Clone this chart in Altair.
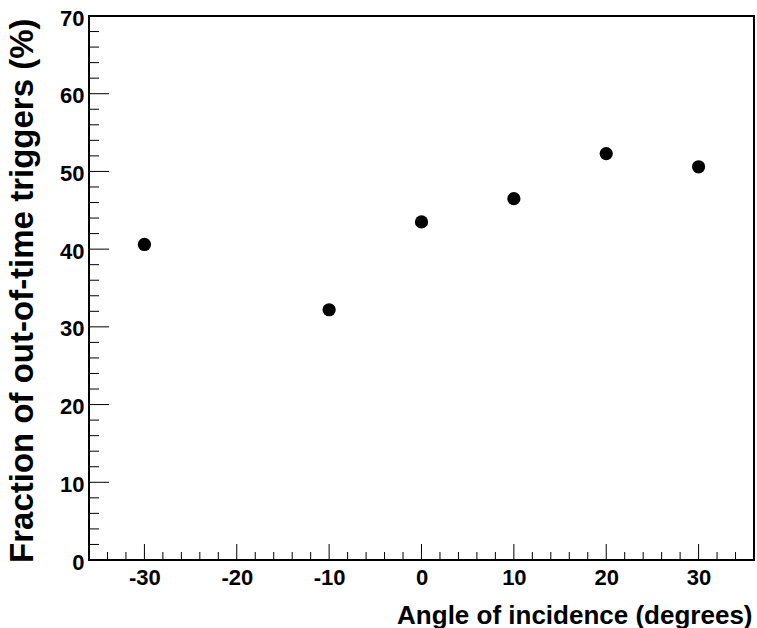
import altair as alt
import pandas as pd

# data
angles = [-30, -10, 0, 10, 20, 30]
fractions = [40.6, 32.2, 43.5, 46.5, 52.3, 50.6]

# tick values
x_major = [-30, -20, -10, 0, 10, 20, 30]
x_minor = [-34, -32, -28, -26, -24, -22, -18, -16, -14, -12, -8, -6, -4, -2,
           2, 4, 6, 8, 12, 14, 16, 18, 22, 24, 26, 28, 32, 34]
y_major = [0, 10, 20, 30, 40, 50, 60, 70]
y_minor = [2, 4, 6, 8, 12, 14, 16, 18, 22, 24, 26, 28, 32, 34, 36, 38,
           42, 44, 46, 48, 52, 54, 56, 58, 62, 64, 66, 68]

W, H = 665, 544
FONT = "Liberation Sans"

xs = alt.Scale(domain=[-36, 36], nice=False, zero=False)
ys = alt.Scale(domain=[0, 70], nice=False, zero=False)

df = pd.DataFrame({"angle": angles, "frac": fractions})

x_axis = alt.Axis(
    values=x_major, ticks=False, domain=False, grid=False,
    labelExpr="datum.value + ''",
    labelFont=FONT, labelFontSize=22, labelFontWeight="bold", labelColor="black",
    labelPadding=7, labelBaseline="top",
    title="Angle of incidence (degrees)", titleFont=FONT, titleFontSize=26,
    titleFontWeight="bold", titleColor="black", titleAlign="right",
    titleAnchor="end", titleBaseline="alphabetic", titleX=663, titleY=63, titleAngle=0,
)
y_axis = alt.Axis(
    values=y_major, ticks=False, domain=False, grid=False,
    labelExpr="datum.value + ''",
    labelFont=FONT, labelFontSize=22, labelFontWeight="bold", labelColor="black",
    labelPadding=5, labelOffset=2, labelBaseline="middle",
    title="Fraction of out-of-time triggers (%)", titleFont=FONT, titleFontSize=33,
    titleFontWeight="bold", titleColor="black", titleAlign="right",
    titleAnchor="end", titleBaseline="alphabetic", titleX=-57, titleY=2, titleAngle=270,
)

points = alt.Chart(df).mark_circle(size=175, color="black", opacity=1).encode(
    x=alt.X("angle:Q", scale=xs, axis=x_axis),
    y=alt.Y("frac:Q", scale=ys, axis=y_axis),
)

xmaj = alt.Chart(pd.DataFrame({"v": x_major})).mark_rule(color="black", strokeWidth=1).encode(
    x=alt.X("v:Q", scale=xs), y=alt.value(H), y2=alt.value(H - 16))
xmin = alt.Chart(pd.DataFrame({"v": x_minor})).mark_rule(color="black", strokeWidth=1).encode(
    x=alt.X("v:Q", scale=xs), y=alt.value(H), y2=alt.value(H - 8))
ymaj = alt.Chart(pd.DataFrame({"v": y_major})).mark_rule(color="black", strokeWidth=1).encode(
    y=alt.Y("v:Q", scale=ys), x=alt.value(0), x2=alt.value(20))
ymin = alt.Chart(pd.DataFrame({"v": y_minor})).mark_rule(color="black", strokeWidth=1).encode(
    y=alt.Y("v:Q", scale=ys), x=alt.value(0), x2=alt.value(10))

chart = alt.layer(points, xmaj, xmin, ymaj, ymin).properties(
    width=W, height=H,
    autosize=alt.AutoSizeParams(type="none"),
    padding={"left": 89, "top": 16, "right": 3, "bottom": 68},
).configure(background="white").configure_view(stroke="black", strokeWidth=2)

chart.save("out.html", embed_options={"renderer": "svg", "actions": False})
